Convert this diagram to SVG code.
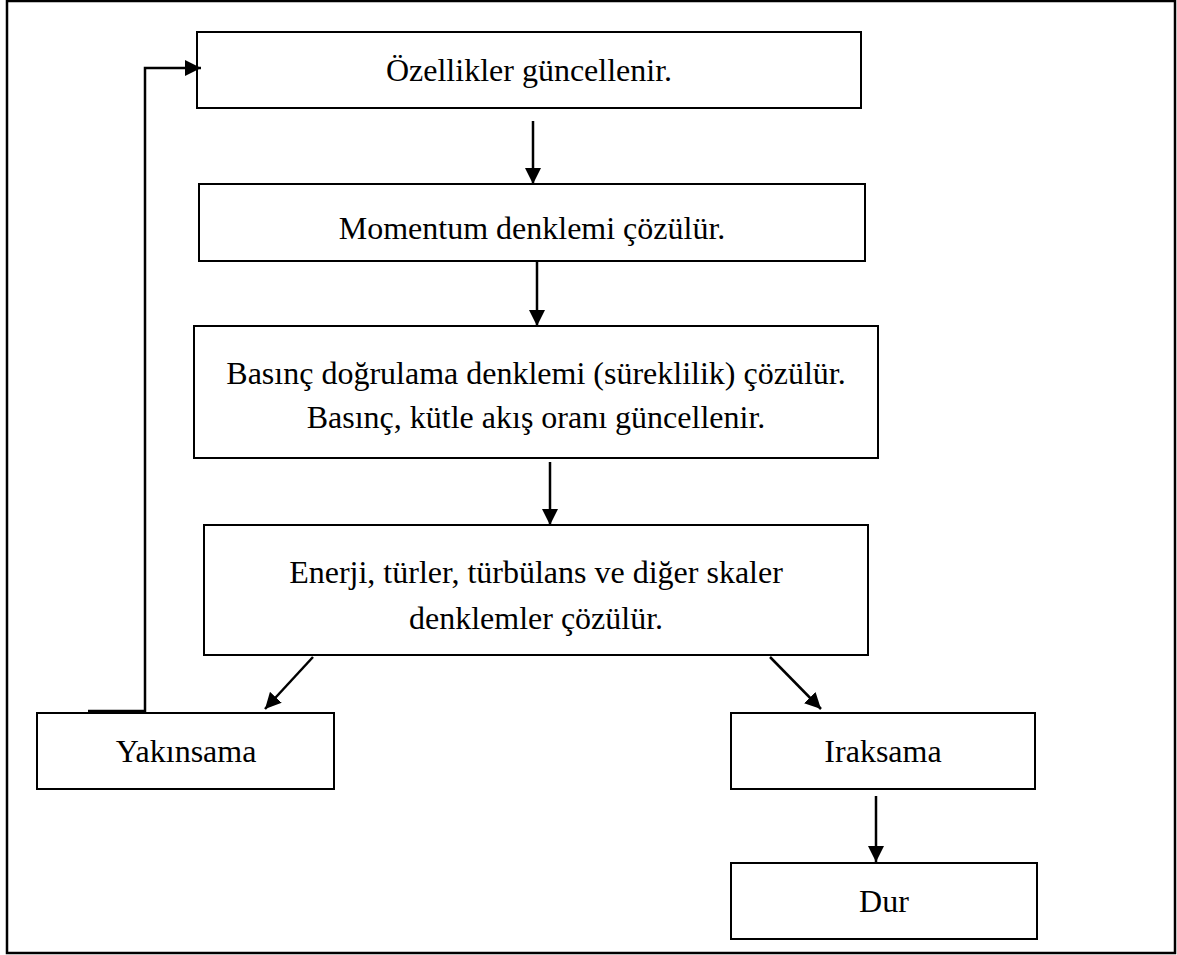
<svg xmlns="http://www.w3.org/2000/svg" width="1177" height="955" viewBox="0 0 1177 955">
  <style>
    .box { fill: #ffffff; stroke: #000000; stroke-width: 2; }
    .frame { fill: none; stroke: #000000; stroke-width: 2.5; }
    .lbl { font-family: "Liberation Serif", "Times New Roman", serif; font-size: 32px; fill: #000000; text-anchor: middle; }
    .wire { fill: none; stroke: #000000; stroke-width: 2.5; }
  </style>
  <defs>
    <marker id="head" viewBox="0 0 10 10" refX="10" refY="5" markerWidth="16" markerHeight="16" markerUnits="userSpaceOnUse" orient="auto">
      <path d="M0,0 L10,5 L0,10 z" fill="#000000"/>
    </marker>
  </defs>

  <rect width="1177" height="955" fill="#ffffff"/>
  <rect class="frame" x="7" y="1" width="1168" height="952"/>

  <g id="node-ozellikler">
    <rect class="box" x="197" y="32" width="664" height="76"/>
    <text class="lbl" x="529" y="81">Özellikler güncellenir.</text>
  </g>

  <g id="node-momentum">
    <rect class="box" x="199" y="184" width="666" height="77"/>
    <text class="lbl" x="532" y="239">Momentum denklemi çözülür.</text>
  </g>

  <g id="node-basinc">
    <rect class="box" x="194" y="326" width="684" height="132"/>
    <text class="lbl" x="536" y="384">Basınç doğrulama denklemi (süreklilik) çözülür.</text>
    <text class="lbl" x="536" y="428">Basınç, kütle akış oranı güncellenir.</text>
  </g>

  <g id="node-enerji">
    <rect class="box" x="204" y="525" width="664" height="130"/>
    <text class="lbl" x="536" y="583">Enerji, türler, türbülans ve diğer skaler</text>
    <text class="lbl" x="536" y="629">denklemler çözülür.</text>
  </g>

  <g id="node-yakinsama">
    <rect class="box" x="37" y="713" width="297" height="76"/>
    <text class="lbl" x="186" y="762">Yakınsama</text>
  </g>

  <g id="node-iraksama">
    <rect class="box" x="731" y="713" width="304" height="76"/>
    <text class="lbl" x="883" y="762">Iraksama</text>
  </g>

  <g id="node-dur">
    <rect class="box" x="731" y="863" width="306" height="76"/>
    <text class="lbl" x="884" y="912">Dur</text>
  </g>

  <g id="connectors">
    <line class="wire" x1="533" y1="121" x2="533" y2="184" marker-end="url(#head)"/>
    <line class="wire" x1="537" y1="262" x2="537" y2="326" marker-end="url(#head)"/>
    <line class="wire" x1="550" y1="462" x2="550" y2="525" marker-end="url(#head)"/>
    <line class="wire" x1="313" y1="657" x2="265" y2="709" marker-end="url(#head)"/>
    <line class="wire" x1="770" y1="657" x2="821" y2="709" marker-end="url(#head)"/>
    <line class="wire" x1="876" y1="796" x2="876" y2="862" marker-end="url(#head)"/>
    <polyline class="wire" points="88,711 145,711 145,68 201,68" marker-end="url(#head)"/>
  </g>
</svg>
